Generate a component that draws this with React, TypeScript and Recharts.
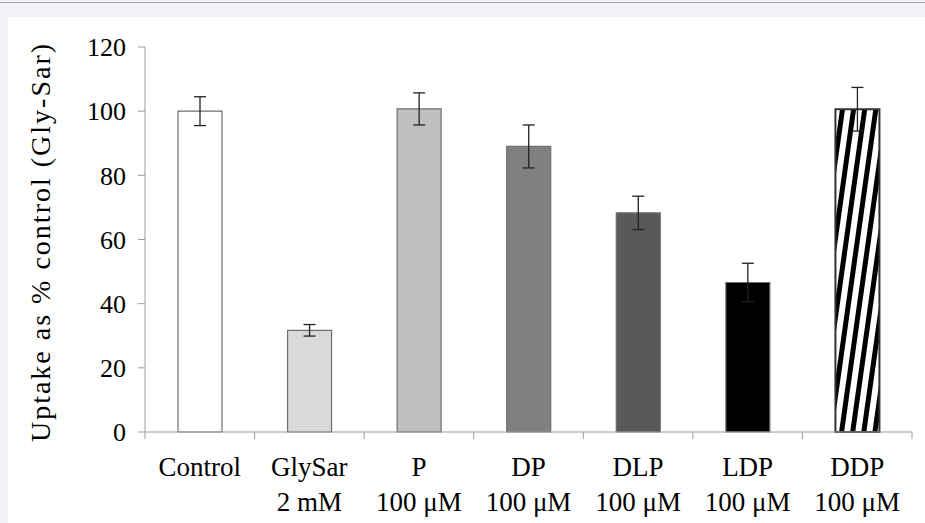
import { BarChart, Bar, Cell, XAxis, YAxis, ErrorBar, Label } from 'recharts';

const categories = ['Control', 'GlySar', 'P', 'DP', 'DLP', 'LDP', 'DDP'];
const doses = ['', '2 mM', '100 μM', '100 μM', '100 μM', '100 μM', '100 μM'];
const uptake = [100, 31.7, 100.7, 89, 68.3, 46.6, 100.6];
const errors = [4.5, 1.8, 5, 6.7, 5.2, 6, 6.8];
const fills = ['#ffffff', '#d9d9d9', '#bfbfbf', '#808080', '#595959', '#000000', 'url(#stripes)'];
const yTicks = [0, 20, 40, 60, 80, 100, 120];

const data = categories.map((name, i) => ({
  name,
  dose: doses[i],
  uptake: uptake[i],
  err: errors[i],
}));

const FONT = "'Liberation Serif', 'DejaVu Serif', 'Noto Serif', 'Times New Roman', Times, serif";
const W = 925;
const H = 523;
const LEFT = 145;
const RIGHT = 13;
const TOP = 47;
const BOTTOM = 91;
const BAND = (W - LEFT - RIGHT) / categories.length;
const AXIS = '#9d9d9d';

const CategoryTick = (props: any) => {
  const { x, y, index, payload } = props;
  const half = BAND / 2;
  const dose = doses[index];
  return (
    <g>
      <line x1={x - half} x2={x - half} y1={y} y2={y + 7} stroke={AXIS} />
      {index === categories.length - 1 && (
        <line x1={x + half} x2={x + half} y1={y} y2={y + 7} stroke={AXIS} />
      )}
      <text x={x} y={y + 44} textAnchor="middle" fill="#000" style={{ fontFamily: FONT, fontSize: 27 }}>
        {payload.value}
      </text>
      {dose && (
        <text x={x} y={y + 79} textAnchor="middle" fill="#000" style={{ fontFamily: FONT, fontSize: 27 }}>
          {dose}
        </text>
      )}
    </g>
  );
};

const YTitle = () => (
  <text
    x={40}
    y={242}
    transform="rotate(-90 40 242)"
    textAnchor="middle"
    dominantBaseline="central"
    fill="#000"
    style={{ fontFamily: FONT, fontSize: 28, letterSpacing: 2 }}
  >
    Uptake as % control (Gly-Sar)
  </text>
);

export default function App() {
  return (
    <div style={{ position: 'absolute', left: 0, top: 0, width: W, height: H, background: '#f1f2f7', overflow: 'hidden' }}>
      <div style={{ position: 'absolute', left: 0, top: 2, width: W, height: 1, background: '#a9a9a9' }} />
      <div style={{ position: 'absolute', left: 8, top: 17, right: 0, bottom: 0, background: '#ffffff' }} />
      <div style={{ position: 'absolute', left: 0, top: 0 }}>
        <BarChart
          width={W}
          height={H}
          data={data}
          margin={{ top: TOP, right: RIGHT, bottom: 0, left: 0 }}
          barSize={44}
        >
          <defs>
            <pattern id="stripes" patternUnits="userSpaceOnUse" width={11} height={40} patternTransform="rotate(8)">
              <rect x={0} y={0} width={11} height={40} fill="#ffffff" />
              <rect x={0} y={0} width={5} height={40} fill="#000000" />
            </pattern>
          </defs>
          <XAxis
            dataKey="name"
            height={BOTTOM}
            stroke={AXIS}
            tickLine={false}
            tickSize={0}
            tickMargin={0}
            interval={0}
            tick={<CategoryTick />}
          />
          <YAxis
            width={LEFT}
            domain={[0, 120]}
            ticks={yTicks}
            interval={0}
            stroke={AXIS}
            tickSize={7}
            tickMargin={12}
            tick={{ fill: '#000', fontSize: 26, style: { fontFamily: FONT } }}
          >
            <Label content={<YTitle />} />
          </YAxis>
          <Bar dataKey="uptake" stroke="#6f6f6f" strokeWidth={1.2} isAnimationActive={false}>
            {data.map((_, i) => (
              <Cell key={`cell-${i}`} fill={fills[i]} stroke={i === 6 ? '#333' : '#6f6f6f'} strokeWidth={i === 6 ? 2 : 1.2} />
            ))}
            <ErrorBar dataKey="err" width={6} stroke="#222" strokeWidth={1.3} isAnimationActive={false} />
          </Bar>
        </BarChart>
      </div>
    </div>
  );
}
